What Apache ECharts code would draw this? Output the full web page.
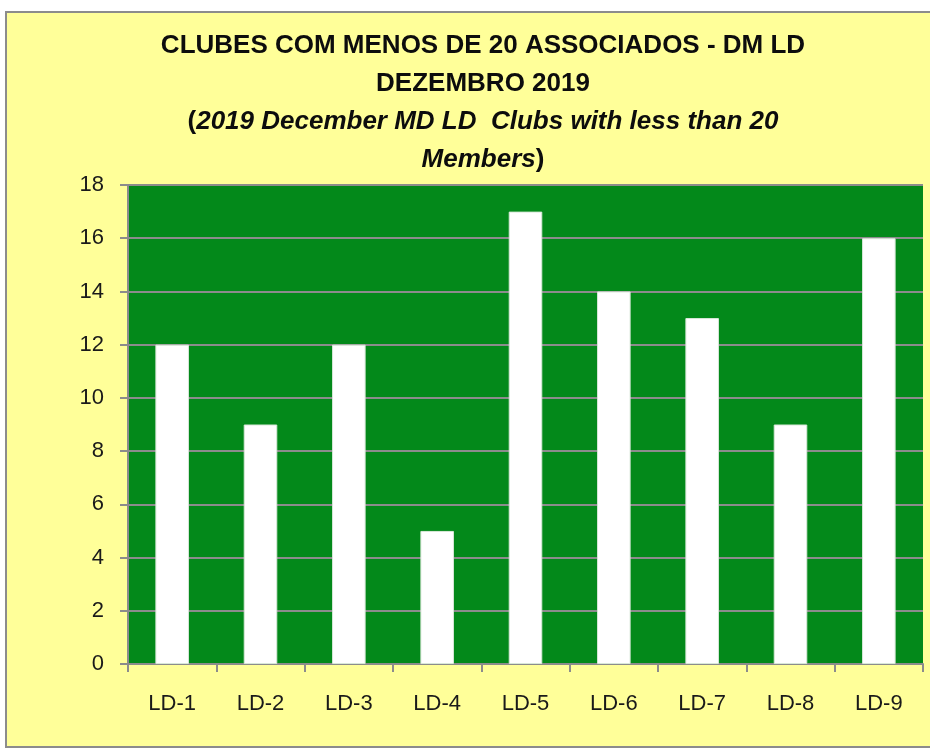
<!DOCTYPE html>
<html>
<head>
<meta charset="utf-8">
<script src="https://cdn.jsdelivr.net/npm/echarts@6/dist/echarts.min.js"></script>
<style>
html,body{margin:0;padding:0;background:#ffffff;}
#chart{width:930px;height:749px;}
</style>
</head>
<body>
<div id="chart"></div>
<script>
var categories = ['LD-1','LD-2','LD-3','LD-4','LD-5','LD-6','LD-7','LD-8','LD-9'];
var values = [12, 9, 12, 5, 17, 14, 13, 9, 16];
var yTicks = {min: 0, max: 18, interval: 2};
var titleLines = [
  'CLUBES COM MENOS DE 20 ASSOCIADOS - DM LD',
  'DEZEMBRO 2019',
  '2019 December MD LD  Clubs with less than 20',
  'Members'
];

var chart = echarts.init(document.getElementById('chart'), null, {renderer: 'canvas'});
var font = 'Liberation Sans, Arial, sans-serif';
chart.setOption({
  backgroundColor: '#ffffff',
  animation: false,
  graphic: [{
    type: 'rect',
    z: -10,
    shape: {x: 6, y: 12, width: 980, height: 735},
    style: {fill: '#FFFF99', stroke: '#8c8c8c', lineWidth: 2}
  }],
  title: {
    left: 483,
    top: 27,
    padding: 0,
    textAlign: 'center',
    text: '{b|' + titleLines[0] + '}\n{b|' + titleLines[1] + '}\n{b|(}{bi|' + titleLines[2] + '}\n{bi|' + titleLines[3] + '}{b|)}',
    textStyle: {
      fontFamily: font,
      lineHeight: 38,
      rich: {
        b: {fontFamily: font, fontWeight: 'bold', fontSize: 26, color: '#0d0d0d', lineHeight: 38},
        bi: {fontFamily: font, fontWeight: 'bold', fontStyle: 'italic', fontSize: 26, color: '#0d0d0d', lineHeight: 38}
      }
    }
  },
  grid: {
    left: 128, right: 7, top: 185, bottom: 85,
    show: true, backgroundColor: '#03891A', borderWidth: 0
  },
  xAxis: {
    type: 'category',
    data: categories,
    axisLine: {show: true, lineStyle: {color: '#8c8c8c', width: 2}},
    axisTick: {show: true, length: 8, lineStyle: {color: '#8c8c8c', width: 2}},
    axisLabel: {fontFamily: font, fontSize: 22, color: '#1a1a1a', margin: 29}
  },
  yAxis: {
    type: 'value',
    min: yTicks.min, max: yTicks.max, interval: yTicks.interval,
    axisLine: {show: true, lineStyle: {color: '#8c8c8c', width: 2}},
    axisTick: {show: true, length: 8, lineStyle: {color: '#8c8c8c', width: 2}},
    splitLine: {show: true, lineStyle: {color: '#8c8c8c', width: 2}},
    axisLabel: {fontFamily: font, fontSize: 22, color: '#1a1a1a', margin: 24}
  },
  series: [{
    type: 'bar',
    data: values,
    barWidth: '38%',
    itemStyle: {color: '#ffffff', borderColor: '#d9e8d9', borderWidth: 1}
  }]
});
</script>
</body>
</html>
